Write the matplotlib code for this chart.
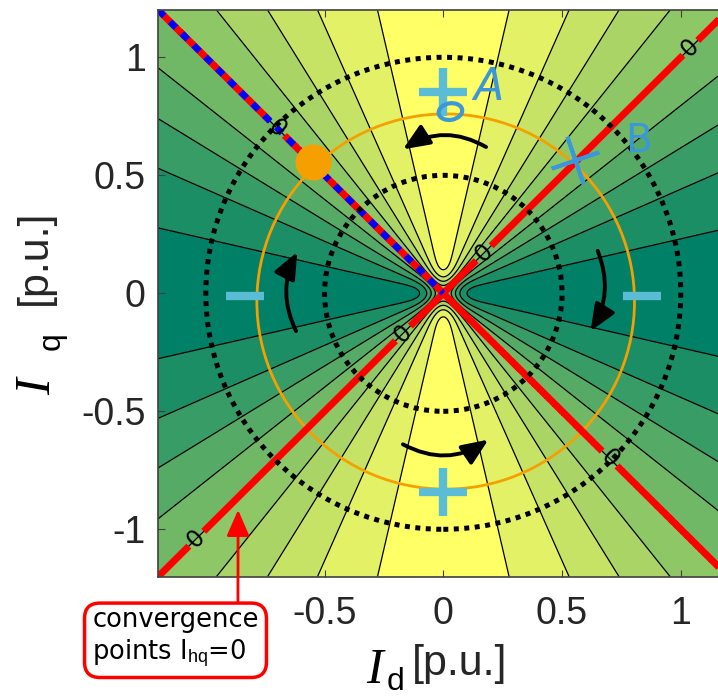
import numpy as np
import matplotlib
matplotlib.use('Agg')
import matplotlib.pyplot as plt
from matplotlib.patches import Circle, Ellipse, FancyArrowPatch

plt.rcParams['axes.unicode_minus'] = False
plt.rcParams['contour.negative_linestyle'] = 'solid'
plt.rcParams['mathtext.fontset'] = 'custom'
plt.rcParams['mathtext.rm'] = 'Liberation Sans'
plt.rcParams['mathtext.it'] = 'Liberation Serif:italic'

# ---- data -------------------------------------------------------------
i_lim = 1.2
amp = 0.89            # peak value of the map
core = 0.066          # size of the bent region round the origin
fill_levels = [-1.0, -0.8, -0.6, -0.4, -0.2, 0.0, 0.2, 0.4, 0.6, 0.8, 1.0]
line_levels = [-0.8, -0.6, -0.4, -0.2, 0.0, 0.2, 0.4, 0.6, 0.8]
zero_label_pos = [(1.04, 1.04), (0.17, 0.17), (-0.17, -0.17), (-1.04, -1.04),
                  (0.70, -0.70), (-0.70, 0.70)]
dotted_radii = [0.5, 1.0]
limit_center = (0.01, -0.035)
limit_radius = 0.795
op_point = (-0.55, 0.555)
plus_pos = [(0.0, 0.855), (0.0, -0.84)]
minus_pos = [(-0.835, -0.01), (0.835, -0.01)]
# (start, end, curvature)
arrows = [((0.18, 0.62), (-0.17, 0.61), 0.3),
          ((-0.62, -0.16), (-0.615, 0.175), -0.25),
          ((0.65, 0.18), (0.62, -0.16), -0.25),
          ((-0.17, -0.64), (0.19, -0.62), 0.3)]
xticks = [-0.5, 0, 0.5, 1]
yticks = [-1, -0.5, 0, 0.5, 1]

W, H = 718, 700


def px(x, y):
    # pixel position (from top-left) -> figure fraction
    return x / W, 1 - y / H


d = np.linspace(-i_lim, i_lim, 961)
q = np.linspace(-i_lim, i_lim, 961)
D, Q = np.meshgrid(d, q)
R2 = Q**2 + D**2
F = amp * (Q**2 - D**2) / (R2 + 1e-12) * (1 - np.exp(-R2 / core**2))

fig = plt.figure(figsize=(W / 100, H / 100), dpi=100)
ax = fig.add_axes([158.3 / W, 123.5 / H, 570 / W, 566.4 / H])

ax.contourf(D, Q, F, levels=fill_levels, cmap='summer', vmin=-0.9, vmax=0.9, zorder=1)
ax.contour(D, Q, F, levels=line_levels, colors='black', linewidths=0.9,
           linestyles='solid', zorder=1.5)
zc = ax.contour(D, Q, F, levels=[0.0], colors='red', linewidths=5, zorder=2.4)
ax.clabel(zc, manual=zero_label_pos, inline=True, inline_spacing=3,
          fontsize=17, colors='black', fmt='%g')

ax.plot([-i_lim, 0], [i_lim, 0], color='blue', lw=4.6, ls=(0, (1.3, 1.3)),
        solid_capstyle='butt', zorder=2.5)

for r in dotted_radii:
    ax.add_patch(Circle((0, 0), r, fill=False, ec='black', lw=3.6,
                        ls=(0, (1, 1.1)), zorder=2.6))
ax.add_patch(Circle(limit_center, limit_radius, fill=False, ec='#f5a000', lw=2, zorder=2.3))
ax.plot(*op_point, 'o', color='#f5a000', ms=25, zorder=2.7)

cyan = '#5bbcd6'
for x, y in plus_pos:
    ax.plot(x, y, marker='+', ms=34, mew=6, color=cyan, ls='none', zorder=3)
for x, y in minus_pos:
    ax.plot(x, y, marker='_', ms=27, mew=6, color=cyan, ls='none', zorder=3)

for (x0, y0), (x1, y1), rad in arrows:
    ax.add_patch(FancyArrowPatch((x0, y0), (x1, y1),
                                 connectionstyle=f'arc3,rad={rad}',
                                 arrowstyle='-|>,head_length=1.0,head_width=0.42',
                                 mutation_scale=16, lw=2.8, color='black',
                                 shrinkA=0, shrinkB=0, zorder=3))

# hand-drawn marks
blue = '#3a97d8'
ax.add_patch(Ellipse((0.03, 0.77), 0.10, 0.07, angle=10, fill=False, ec=blue, lw=3, zorder=3.2))
ax.text(0.19, 0.87, 'A', color=blue, fontsize=32, ha='center', va='center',
        family='DejaVu Sans', style='italic', zorder=3.2)
ax.text(0.82, 0.645, 'B', color=blue, fontsize=28, ha='center', va='center',
        family='DejaVu Sans', zorder=3.2)
ax.plot(0.555, 0.565, marker=(4, 2, 19), ms=36, mew=2.8, color=blue, zorder=3.2)

ax.annotate('convergence\npoints I$_{\\mathrm{hq}}$=0', xy=(-0.864, -0.918), xycoords='data',
            xytext=(175.5, 61.5), textcoords='figure pixels', ha='center', va='center',
            multialignment='left', fontsize=18.5, family='DejaVu Sans',
            bbox=dict(boxstyle='round,pad=0.3,rounding_size=0.6', fc='white', ec='red', lw=2.5),
            arrowprops=dict(arrowstyle='-|>,head_length=0.8,head_width=0.35', color='red',
                            lw=2, mutation_scale=20, shrinkA=0, shrinkB=0, relpos=(0.875, 1.0)),
            annotation_clip=False, zorder=5)

ax.set_xlim(-i_lim, i_lim)
ax.set_ylim(-i_lim, i_lim)
ax.set_xticks(xticks)
ax.set_xticklabels([f'{v:g}' for v in xticks])
ax.set_yticks(yticks)
ax.set_yticklabels([f'{v:g}' for v in yticks])
for lab in ax.get_xticklabels() + ax.get_yticklabels():
    lab.set_family('Liberation Sans')
ax.tick_params(direction='in', top=True, right=True, length=5, width=0.8,
               labelsize=27, labelcolor='#262626', color='#404040')
ax.tick_params(axis='x', pad=14)
ax.tick_params(axis='y', pad=9)
for s in ax.spines.values():
    s.set_color('#404040')
    s.set_linewidth(1.2)

# axis labels
fig.text(*px(366, 683), r'$\mathit{I}$', fontsize=36, ha='left', va='baseline')
fig.text(*px(387, 690), 'd', fontsize=23, family='Liberation Sans', ha='left', va='baseline')
fig.text(*px(412, 675), '[p.u.]', fontsize=31, family='Liberation Sans', color='#262626',
         ha='left', va='baseline')
fig.text(*px(50, 395), r'$\mathit{I}$', fontsize=36, rotation=90,
         rotation_mode='anchor', ha='left', va='baseline')
fig.text(*px(60, 350), 'q', fontsize=23, family='Liberation Sans', rotation=90,
         rotation_mode='anchor', ha='left', va='baseline')
fig.text(*px(46, 305), '[p.u.]', fontsize=31, family='Liberation Sans', color='#262626',
         rotation=90, rotation_mode='anchor', ha='left', va='baseline')

fig.savefig('out.png', dpi=100)
